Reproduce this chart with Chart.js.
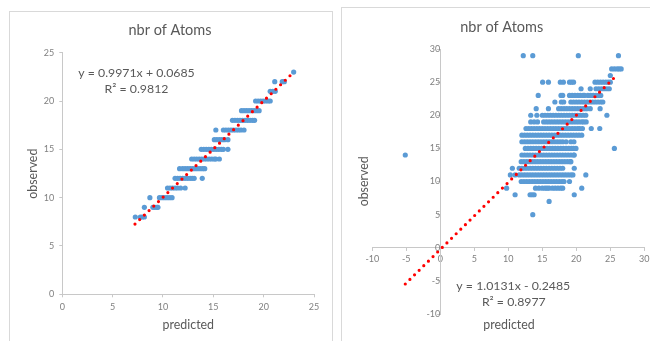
<!DOCTYPE html>
<html><head><meta charset="utf-8">
<script src="https://cdn.jsdelivr.net/npm/chart.js@4.4.1/dist/chart.umd.min.js"></script>
<style>
html,body{margin:0;padding:0;background:#fff;overflow:hidden;width:650px;height:341px;}
.box{position:absolute;border:1px solid #d9d9d9;background:#fff;}
#b1{left:9px;top:11px;width:322px;height:340px;}
#b2{left:341px;top:7px;width:330px;height:340px;}
canvas{display:block;}
</style></head><body>
<div class="box" id="b1"><canvas id="c1" width="322" height="329"></canvas></div>
<div class="box" id="b2"><canvas id="c2" width="330" height="333"></canvas></div>
<script>
// ---------- data: left chart ----------
const titleText = "nbr of Atoms";
const xTitle = "predicted";
const yTitle = "observed";
const eqLeft = ["y = 0.9971x + 0.0685", "R\u00b2 = 0.9812"];
const eqRight = ["y = 1.0131x - 0.2485", "R\u00b2 = 0.8977"];

const obsLeft = [8, 9, 10, 11, 12, 13, 14, 15, 16, 17, 18, 19, 20, 21, 22, 23];
const predLeft = [
  [7.25, 7.75, 7.95, 8.15],
  [8.15, 9.0, 9.2, 9.4, 9.5],
  [8.7, 9.65, 9.9, 10.15, 10.4, 10.65, 10.9],
  [10.45, 10.7, 10.95, 11.2, 11.45, 11.75, 12.2],
  [11.2, 11.45, 11.7, 11.95, 12.2, 12.45, 12.7, 12.9, 13.1, 13.9],
  [11.65, 11.95, 12.2, 12.45, 12.7, 12.95, 13.2, 13.45, 13.7, 13.95, 14.15],
  [12.85, 13.1, 13.35, 13.6, 13.85, 14.1, 14.35, 14.6, 14.85, 15.1, 15.25, 15.6],
  [13.8, 14.05, 14.3, 14.55, 14.8, 15.05, 15.3, 15.55, 15.8, 16.0, 16.45],
  [15.1, 15.35, 15.6, 15.85, 16.1, 16.45],
  [15.25, 16.0, 16.25, 16.5, 16.75, 17.0, 17.25, 17.5, 17.75, 18.05],
  [16.9, 17.15, 17.4, 17.65, 17.9, 18.15, 18.4, 18.65, 18.9, 19.1],
  [17.8, 18.05, 18.3, 18.55, 18.8, 19.05, 19.3, 19.55],
  [19.2, 19.45, 19.7, 19.95, 20.2, 20.45, 20.65],
  [20.65, 20.9, 21.15],
  [21.1, 21.85, 22.05],
  [22.98]
];
const trendLeftX = [7.22, 22.98];
const trendLeftY = [7.27, 22.98];

// ---------- data: right chart ----------
const obsRight = [29, 27, 26, 25, 24, 23, 22, 21, 20, 19, 18, 17, 16, 15, 14, 13, 12, 11, 10, 9, 8, 7, 5];
const predRight = [
  [12.2, 13.6, 20.3, 26.2],
  [25.2, 25.6, 26.0, 26.3, 26.6],
  [25.0],
  [15.05, 15.9, 17.65, 18.1, 19.0, 19.3, 19.6, 22.75, 23.15, 23.55, 23.95, 24.35, 24.7, 25.0],
  [20.7, 22.05, 22.9, 23.3, 23.7, 24.1, 24.5, 24.85],
  [14.4, 17.75, 18.0, 19.0, 19.4, 19.8, 20.2, 20.6, 21.0, 21.2, 21.7, 22.1, 22.5, 22.9, 23.3, 23.6],
  [16.85, 17.8, 18.15, 19.2, 19.6, 20.0, 20.4, 20.8, 21.2, 21.6, 22.0, 22.4, 22.8, 23.2, 23.6, 23.9],
  [14.1, 15.9, 17.4, 17.8, 18.2, 18.6, 19.0, 19.4, 19.8, 20.2, 20.6, 21.0, 21.3, 21.6, 22.05, 23.5],
  [13.3, 14.2, 15.0, 15.4, 15.8, 16.2, 16.6, 17.0, 17.4, 17.8, 18.2, 18.6, 19.0, 19.4, 19.8, 20.2, 20.6, 21.0, 21.4, 24.5],
  [13.3, 13.8, 14.3, 15.2, 15.6, 16.0, 16.4, 16.8, 17.2, 17.6, 18.0, 18.4, 18.8, 19.2, 19.6, 20.0, 20.4, 20.8, 21.1, 21.45],
  [12.6, 13.0, 13.4, 13.8, 14.2, 14.6, 15.0, 15.4, 15.8, 16.2, 16.6, 17.0, 17.4, 17.8, 18.2, 18.6, 19.0, 19.4, 19.8, 20.2, 20.5, 20.9, 22.2, 23.45],
  [12.0, 12.4, 12.8, 13.2, 13.6, 14.0, 14.4, 14.8, 15.2, 15.6, 16.0, 16.4, 16.8, 17.2, 17.6, 18.0, 18.4, 18.8, 19.2, 19.6, 20.0, 20.4, 20.8],
  [12.0, 12.4, 12.8, 13.2, 13.6, 14.0, 14.4, 14.8, 15.2, 15.6, 16.0, 16.4, 16.8, 17.2, 17.6, 18.0, 18.5, 19.2, 19.65],
  [12.5, 12.9, 13.3, 13.7, 14.1, 14.5, 14.9, 15.3, 15.7, 16.1, 16.5, 16.9, 17.3, 17.7, 18.1, 18.5, 18.9, 19.3, 19.6, 19.95, 25.6],
  [-5.15, 12.0, 12.4, 12.8, 13.2, 13.6, 14.0, 14.4, 14.8, 15.2, 15.6, 16.0, 16.4, 16.8, 17.2, 17.6, 18.0, 18.4, 18.8, 19.2, 19.6, 19.7],
  [11.9, 12.3, 12.7, 13.1, 13.5, 13.9, 14.3, 14.7, 15.1, 15.5, 15.9, 16.3, 16.7, 17.1, 17.5, 17.9, 18.3, 18.7, 19.1, 19.2],
  [10.6, 11.6, 12.0, 12.4, 12.8, 13.2, 13.6, 14.0, 14.4, 14.8, 15.2, 15.6, 16.0, 16.4, 16.8, 17.2, 17.6, 18.0, 19.7],
  [10.3, 11.0, 11.6, 12.0, 12.4, 12.8, 13.2, 13.6, 14.0, 14.4, 14.8, 15.2, 15.6, 16.0, 16.4, 16.8, 17.2, 17.6, 18.0, 18.4, 18.8, 19.2, 19.5, 21.4],
  [11.9, 12.3, 12.7, 13.1, 13.5, 13.9, 14.3, 14.7, 15.1, 15.5, 15.9, 16.3, 16.7, 17.1, 17.5, 17.9, 18.2, 19.0],
  [9.75, 14.0, 14.5, 15.0, 15.4, 15.7, 16.0, 16.5, 16.9, 17.3, 17.7, 18.0, 20.8],
  [11.0, 13.2, 13.5, 13.8, 19.7],
  [16.0],
  [13.6]
];
const trendRightX = [-5.15, 25.95];
const trendRightY = [-5.47, 26.04];

// ---------- helpers ----------
function buildPoints(obs, preds) {
  const pts = [];
  obs.forEach((o, i) => preds[i].forEach(p => pts.push({x: p, y: o})));
  return pts;
}
function buildTrend(xs, ys) { return xs.map((x, i) => ({x: x, y: ys[i]})); }

const textPlugin = {
  id: 'texts',
  afterDraw(chart, args, opts) {
    const ctx = chart.ctx;
    (opts.items || []).forEach(it => {
      ctx.save();
      ctx.font = it.font;
      ctx.fillStyle = it.color;
      ctx.textAlign = 'center';
      ctx.textBaseline = 'middle';
      ctx.translate(it.x, it.y);
      if (it.rot) ctx.rotate(it.rot);
      ctx.fillText(it.text, 0, 0);
      ctx.restore();
    });
  }
};

const FONT = 'Lato, "Open Sans", sans-serif';
const tickFont = {family: FONT, size: 9};
const tickColor = '#808080';
const axisColor = '#c8c8c8';
const titleColor = '#595959';

function axis(min, max, pos, pad, size) {
  return {
    type: 'linear', min: min, max: max, position: pos,
    ticks: {stepSize: 5, font: tickFont, color: tickColor, padding: pad, maxRotation: 0, autoSkip: false},
    grid: {drawOnChartArea: false, drawTicks: true, tickLength: 3, color: axisColor, lineWidth: 1},
    border: {display: true, color: axisColor, width: 1},
    afterFit(s) { if (s.isHorizontal()) s.height = size; else s.width = size; }
  };
}

function datasets(points, trend) {
  return [
    {data: trend, showLine: true, borderColor: '#ff0000', borderWidth: 3.2,
     borderDash: [0, 6.5], borderCapStyle: 'round', pointRadius: 0, fill: false},
    {data: points, showLine: false, pointRadius: 2.6, pointBackgroundColor: '#5b9bd5',
     pointBorderWidth: 0, pointBorderColor: '#5b9bd5'}
  ];
}

const common = {
  responsive: false, animation: false, events: [],
  plugins: {legend: {display: false}, tooltip: {enabled: false}}
};

// ---------- left chart ----------
new Chart(document.getElementById('c1'), {
  type: 'scatter',
  data: {datasets: datasets(buildPoints(obsLeft, predLeft), buildTrend(trendLeftX, trendLeftY))},
  options: Object.assign({}, common, {
    layout: {padding: {left: 12.3, right: 18, top: 40.7, bottom: 16.7}},
    scales: {x: axis(0, 25, 'bottom', 4, 30), y: axis(0, 25, 'left', 5, 40)},
    plugins: Object.assign({}, common.plugins, {
      texts: {items: [
        {text: titleText, x: 160, y: 18, font: '14.5px ' + FONT, color: titleColor},
        {text: eqLeft[0], x: 126.5, y: 61, font: '12.3px ' + FONT, color: titleColor},
        {text: eqLeft[1], x: 126.5, y: 77, font: '12.3px ' + FONT, color: titleColor},
        {text: xTitle, x: 178.3, y: 313, font: '12.4px ' + FONT, color: titleColor},
        {text: yTitle, x: 23, y: 161.7, font: '12.4px ' + FONT, color: titleColor, rot: -Math.PI / 2}
      ]}
    })
  }),
  plugins: [textPlugin]
});

// ---------- right chart ----------
new Chart(document.getElementById('c2'), {
  type: 'scatter',
  data: {datasets: datasets(buildPoints(obsRight, predRight), buildTrend(trendRightX, trendRightY))},
  options: Object.assign({}, common, {
    layout: {padding: {left: 30.3, right: 27.7, top: 41, bottom: 27}},
    scales: {x: axis(-10, 30, {y: 0}, 3, 0), y: axis(-10, 30, {x: 0}, 5, 0)},
    plugins: Object.assign({}, common.plugins, {
      texts: {items: [
        {text: titleText, x: 159.7, y: 19, font: '14.5px ' + FONT, color: titleColor},
        {text: eqRight[0], x: 171.3, y: 278, font: '12.3px ' + FONT, color: titleColor},
        {text: eqRight[1], x: 171.8, y: 294, font: '12.3px ' + FONT, color: titleColor},
        {text: xTitle, x: 167, y: 317, font: '12.4px ' + FONT, color: titleColor},
        {text: yTitle, x: 22.3, y: 173.3, font: '12.4px ' + FONT, color: titleColor, rot: -Math.PI / 2}
      ]}
    })
  }),
  plugins: [textPlugin]
});
</script>
</body></html>
